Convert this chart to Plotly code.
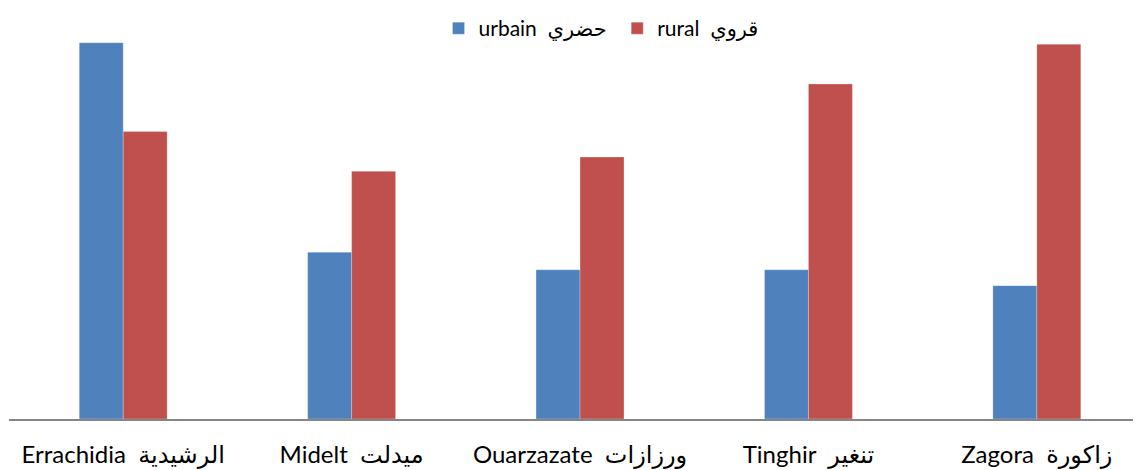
import plotly.graph_objects as go

# provinces (Latin + Arabic names)
provinces = ["Errachidia  الرشيدية", "Midelt  ميدلت", "Ouarzazate  ورزازات",
             "Tinghir  تنغير", "Zagora  زاكورة"]
# population estimates (thousands)
urbain = [237, 105, 94, 94, 84]
rural = [181, 156, 165, 211, 236]

series_names = ["urbain  حضري ", "rural  قروي"]
colors = ["#4F81BD", "#C0504D"]

fig = go.Figure()
for name, vals, col in zip(series_names, [urbain, rural], colors):
    fig.add_trace(go.Bar(x=provinces, y=vals, name=name, marker_color=col,
                         marker_line=dict(color="rgba(255,255,255,0.5)", width=0.5)))

# page body has an 8px margin, so the figure is a bit smaller than the window
fig.update_layout(
    width=1133, height=462,
    margin=dict(l=1, r=0, t=22, b=51, autoexpand=False),
    barmode="group", bargap=0.615, bargroupgap=0,
    plot_bgcolor="white", paper_bgcolor="white",
    font=dict(family="Lato, 'DejaVu Sans', sans-serif", size=24, color="#000000"),
    legend=dict(orientation="h", x=0.523, xanchor="center",
                yref="container", y=1.0, yanchor="top",
                font=dict(size=21), itemwidth=30),
    showlegend=True,
)
fig.update_xaxes(range=[-0.5, 4.456], showline=True, linecolor="#868686", linewidth=2,
                 ticks="", showgrid=False, tickfont=dict(size=24), ticklabelstandoff=13,
                 automargin=False)
fig.update_yaxes(range=[0, 245], visible=False, showgrid=False)

fig.write_html("out.html")
